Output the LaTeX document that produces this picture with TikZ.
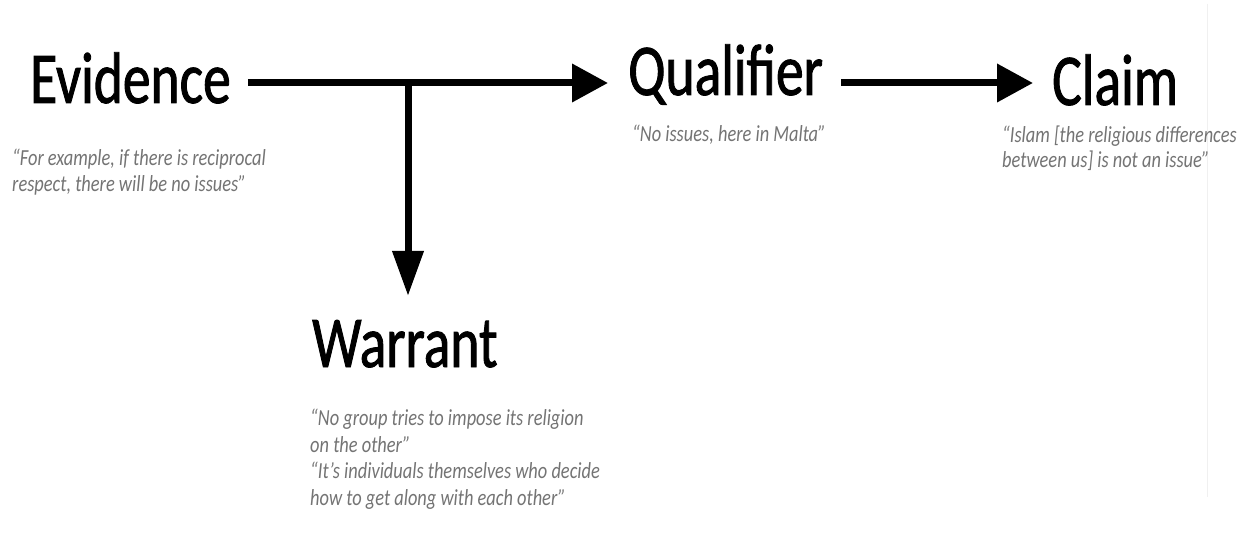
\documentclass[tikz,border=0pt]{standalone}
\usepackage{fontspec}
\usetikzlibrary{arrows.meta}
\newfontfamily\headfont[FakeStretch=0.76,FakeBold=1.2]{Carlito}
\newfontfamily\quotefont[FakeStretch=0.8]{Carlito}
\definecolor{quotegray}{HTML}{747474}
\begin{document}
\begin{tikzpicture}[x=1pt,y=-1pt,
  heading/.style={inner sep=0pt,anchor=base west,font=\headfont\fontsize{73}{80}\selectfont},
  quote/.style={inner sep=0pt,anchor=base west,align=left,text=quotegray,
    font=\quotefont\itshape\fontsize{23}{26.5}\selectfont},
  flow/.style={line width=7pt},
  headH/.style={-{Triangle[length=36pt,width=37pt]}},
  headV/.style={-{Triangle[length=45pt,width=30pt]}}]
\useasboundingbox (0,0) rectangle (1238,534);
\fill[white] (0,0) rectangle (1238,534);
\draw[black!6,line width=1pt] (1207,4) -- (1207,497);

% the four headings
\node[heading] (ev) at (30,103) {Evidence};
\node[heading] (qu) at (628,95) {Qualifier};
\node[heading] (cl) at (1052,105) {Claim};
\node[heading] (wa) at (312,367) {Warrant};

% quotations under each heading (anchored at the baseline of the last line)
\node[quote] (evq) at (12,192) {“For example, if there is reciprocal\\respect, there will be no issues”};
\node[quote] (quq) at (632,142) {“No issues, here in Malta”};
\node[quote,font=\quotefont\itshape\fontsize{23}{25}\selectfont] (clq) at (1002,168) {“Islam [the religious differences\\between us] is not an issue”};
\node[quote] (waq) at (310,505) {“No group tries to impose its religion\\on the other”\\“It’s individuals themselves who decide\\how to get along with each other”};

% connectors
\coordinate (j) at (408,83);
\draw[flow,headH,shorten <=17pt,shorten >=20pt] (ev.east |- j) -- (qu.west |- j);
\draw[flow,headH,shorten <=18pt,shorten >=19pt] (qu.east |- j) -- (cl.west |- j);
\draw[flow,headV,shorten >=24pt] ([yshift=-3.5pt]j) -- (j |- wa.north);
\end{tikzpicture}
\end{document}
